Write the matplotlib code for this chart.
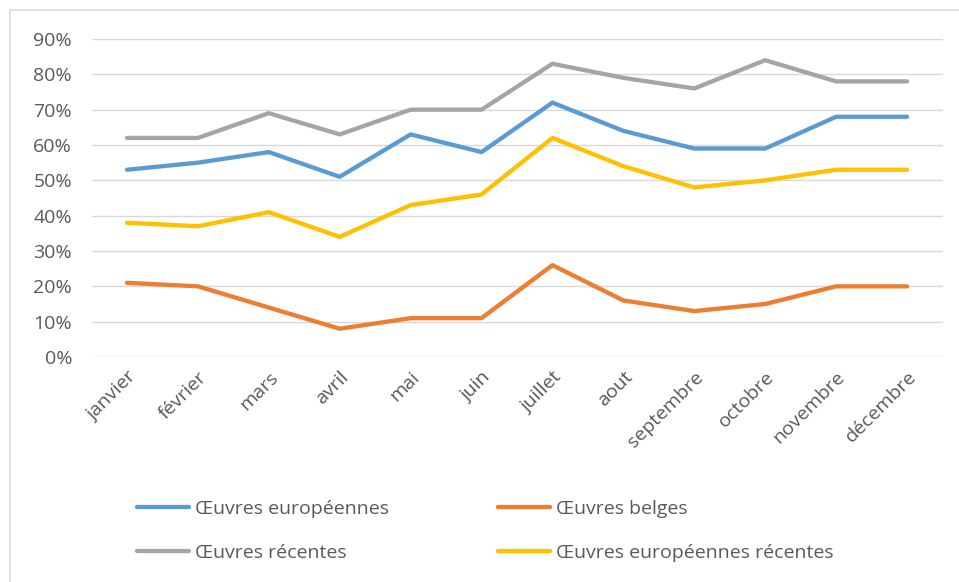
import matplotlib
matplotlib.use("Agg")
import matplotlib.pyplot as plt
from matplotlib.lines import Line2D
from matplotlib.ticker import FuncFormatter

months = ["janvier", "février", "mars", "avril", "mai", "juin", "juillet",
          "aout", "septembre", "octobre", "novembre", "décembre"]
euro = [53, 55, 58, 51, 63, 58, 72, 64, 59, 59, 68, 68]
belges = [21, 20, 14, 8, 11, 11, 26, 16, 13, 15, 20, 20]
recentes = [62, 62, 69, 63, 70, 70, 83, 79, 76, 84, 78, 78]
euro_rec = [38, 37, 41, 34, 43, 46, 62, 54, 48, 50, 53, 53]
yticks = [0, 10, 20, 30, 40, 50, 60, 70, 80, 90]

plt.rcParams['font.family'] = ['Open Sans', 'DejaVu Sans']

W, H = 959, 582
fig = plt.figure(figsize=(W / 100, H / 100), dpi=100)
ax = fig.add_axes([91.5 / W, 1 - 357 / H, (942.5 - 91.5) / W, (357 - 39) / H])

x = list(range(len(months)))
lw = 3.1
l1, = ax.plot(x, euro, color="#5B9BD5", lw=lw, solid_capstyle="round", solid_joinstyle="round")
l2, = ax.plot(x, belges, color="#ED7D31", lw=lw, solid_capstyle="round", solid_joinstyle="round")
l3, = ax.plot(x, recentes, color="#A5A5A5", lw=lw, solid_capstyle="round", solid_joinstyle="round")
l4, = ax.plot(x, euro_rec, color="#FFC000", lw=lw, solid_capstyle="round", solid_joinstyle="round")
for l in (l1, l2, l3, l4):
    l.set_zorder(3)

ax.set_xlim(-0.5, len(months) - 0.5)
ax.set_ylim(0, 90)
ax.set_yticks(yticks)
ax.yaxis.set_major_formatter(FuncFormatter(lambda v, p: f"{int(v)}%"))
ax.set_xticks(x)
ax.set_xticklabels(months, rotation=45, ha="right", rotation_mode="anchor")
ax.grid(axis="y", color="#D9D9D9", lw=1)
ax.set_axisbelow(True)
for s in ax.spines.values():
    s.set_visible(False)
ax.tick_params(axis="both", length=0, labelsize=14, colors="#595959")
ax.tick_params(axis="y", pad=14)
ax.tick_params(axis="x", pad=8)

# chart border (left & top)
fig.add_artist(Line2D([10 / W, 10 / W], [0, 1 - 10 / H], color="#D9D9D9", lw=1.2))
fig.add_artist(Line2D([10 / W, 1], [1 - 10 / H, 1 - 10 / H], color="#D9D9D9", lw=1.2))

handles = [l1, l3, l2, l4]
labels = ["Œuvres européennes", "Œuvres récentes", "Œuvres belges", "Œuvres européennes récentes"]
fig.legend(handles, labels, ncol=2, loc="upper left",
           bbox_to_anchor=(119 / W, 1 - 482 / H), frameon=False,
           fontsize=14, labelcolor="#595959", handlelength=2.7,
           handletextpad=0.3, columnspacing=5.6, labelspacing=1.36)

fig.savefig("out.png", dpi=100)
